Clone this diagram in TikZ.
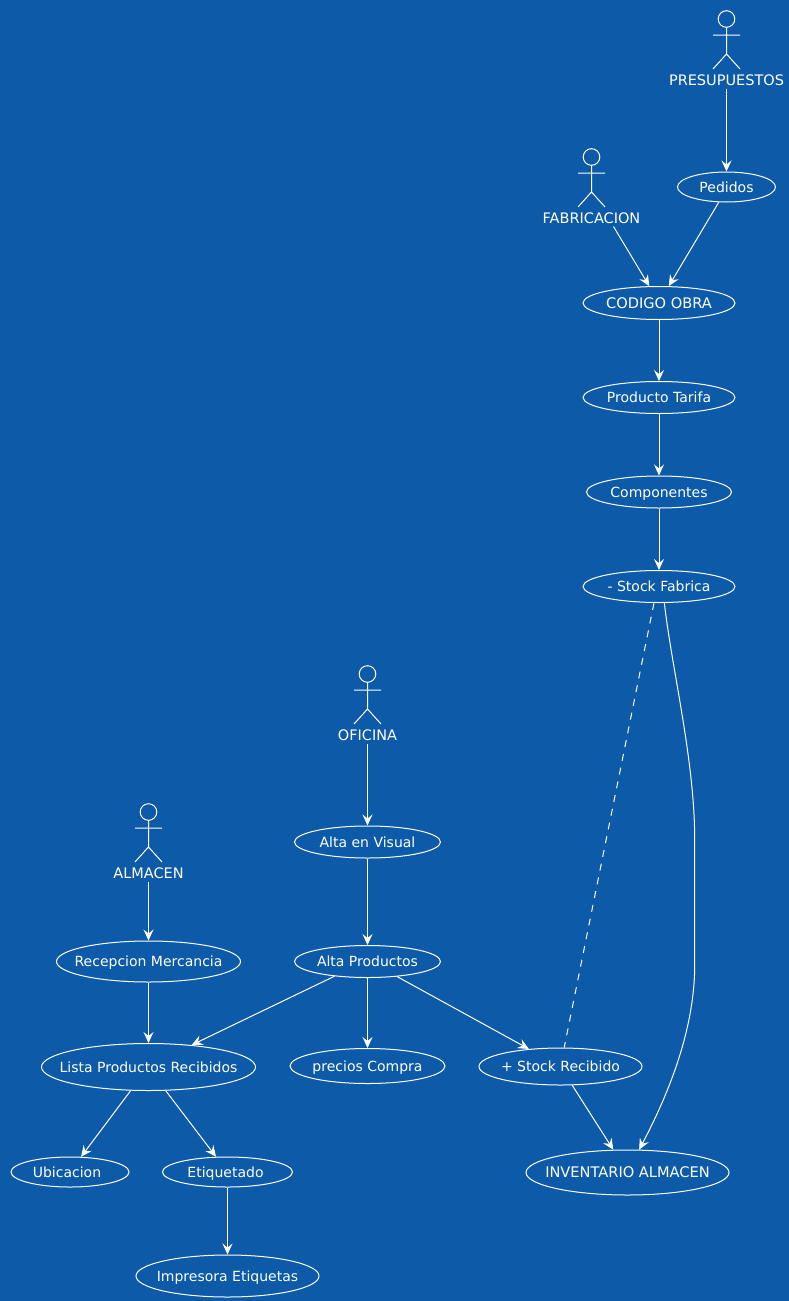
\documentclass[tikz,border=0pt]{standalone}
\usepackage{fontspec}
\setmainfont{DejaVu Sans}
\usetikzlibrary{arrows.meta,shapes.geometric}
\definecolor{bluebg}{HTML}{0C5AA8}
\newcommand{\uc}[2][0pt]{\makebox[0pt]{\hspace{#1}\vphantom{A}\smash{#2}}}
\tikzset{
  usecase/.style={draw=white,ellipse,inner sep=0pt,text=white,line width=1pt,
                  font=\fontsize{14}{16}\selectfont},
  capscase/.style={usecase,font=\fontsize{14.6}{16}\selectfont},
  actorname/.style={text=white,inner sep=0pt,minimum height=16pt,
                    font=\fontsize{14.5}{16}\selectfont},
  stickman/.pic={
    \draw[-,white,line width=1pt] (0,-61) circle (8.3)
      (0,-52.5) -- (0,-26) (-13.5,-45) -- (13.5,-45)
      (-13.5,-11) -- (0,-26) -- (13.5,-11);
  }
}

\begin{document}
\begin{tikzpicture}[x=1pt,y=-1pt,->,>={Stealth[length=11pt,width=10pt,inset=4pt]},
                    white,line width=1pt]

  \fill[bluebg] (0,0) rectangle (789,1301);
  \useasboundingbox (0,0) rectangle (789,1301);

  % top column
  \node[actorname] (presupuestos) at (726.5,80) {PRESUPUESTOS};
  \node[actorname] (fabricacion)  at (591.5,218) {FABRICACION};
  \node[usecase,minimum width=98pt,minimum height=30pt]   (pedidos)    at (726.5,187) {\uc{Pedidos}};
  \node[capscase,minimum width=152pt,minimum height=33pt]  (codigo)     at (659,303) {\uc{CODIGO OBRA}};
  \node[usecase,minimum width=152pt,minimum height=32pt,node distance=94.5pt]  (producto)   [below of=codigo] {\uc{Producto Tarifa}};
  \node[usecase,minimum width=145pt,minimum height=32pt,node distance=94.5pt]  (componentes) [below of=producto] {\uc{Componentes}};
  \node[usecase,minimum width=152pt,minimum height=32pt,node distance=94.5pt]  (stockfab)   [below of=componentes] {\uc{- Stock Fabrica}};

  % office column
  \node[actorname] (oficina) at (367.5,735) {OFICINA};
  \node[usecase,minimum width=146pt,minimum height=32pt]  (altavisual) at (367.5,842) {\uc{Alta en Visual}};
  \node[usecase,minimum width=146pt,minimum height=32pt,node distance=119.5pt]  (altaprod)   [below of=altavisual] {\uc{Alta Productos}};
  \node[usecase,minimum width=155pt,minimum height=35pt]  (precios)    at (367.5,1066) {\uc{precios Compra}};
  \node[usecase,minimum width=163pt,minimum height=37pt]  (stockrec)   at (560.5,1066.5) {\uc{+ Stock Recibido}};
  \node[capscase,minimum width=203pt,minimum height=45pt]  (inventario) at (627.5,1172.5) {\uc{INVENTARIO ALMACEN}};

  % warehouse column
  \node[actorname] (almacen) at (148.5,873) {ALMACEN};
  \node[usecase,minimum width=184pt,minimum height=41pt]  (recepcion)  at (148.5,961.5) {\uc{Recepcion Mercancia}};
  \node[usecase,minimum width=214pt,minimum height=47pt]  (lista)      at (148.5,1067) {\uc{Lista Productos Recibidos}};
  \node[usecase,minimum width=118pt,minimum height=30pt]  (ubicacion)  at (70,1172) {\uc[-6pt]{Ubicacion}};
  \node[usecase,minimum width=130pt,minimum height=30pt]  (etiquetado) at (227.5,1172) {\uc[-4pt]{Etiquetado}};
  \node[usecase,minimum width=183pt,minimum height=42pt]  (impresora)  at (227.5,1276) {\uc{Impresora Etiquetas}};

  \pic at (presupuestos) {stickman};
  \pic at (fabricacion) {stickman};
  \pic at (oficina) {stickman};
  \pic at (almacen) {stickman};

  \path (presupuestos) edge (pedidos)
        ([xshift=22pt]fabricacion.south) edge (codigo.120)
        (pedidos.-117) edge (codigo.60)
        (codigo) edge (producto)
        (producto) edge (componentes)
        (componentes) edge (stockfab)
        (oficina) edge (altavisual)
        (altavisual) edge (altaprod)
        (altaprod) edge (precios)
        (altaprod.-156) edge (lista.27)
        (altaprod.-27) edge (stockrec.151)
        (stockrec.-58) edge (inventario.122)
        (almacen) edge (recepcion)
        (recepcion) edge (lista)
        (lista.-127) edge (ubicacion.54)
        (lista.-54) edge (etiquetado.127)
        (etiquetado) edge (impresora);

  \draw[-,dash pattern=on 7pt off 7pt] (stockfab.-107) -- (stockrec.79);
  \draw (stockfab.-72) .. controls (672,670) and (694.7,760) .. (694.7,840) -- (694.7,965)
        .. controls (694.7,1030) and (668,1095) .. (inventario.63);
\end{tikzpicture}
\end{document}
